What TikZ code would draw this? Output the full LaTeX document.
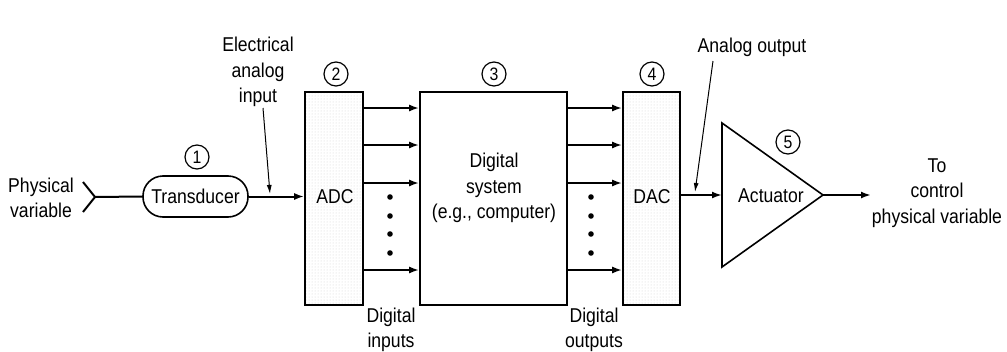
\documentclass[tikz,border=0pt]{standalone}
\usepackage{fontspec}
\setmainfont{Liberation Sans}[FakeStretch=0.88]
\usetikzlibrary{arrows.meta,patterns}
\begin{document}
\begin{tikzpicture}[x=1pt,y=-1pt,
  txt/.style={font=\fontsize{20}{25.5}\selectfont, align=center, inner sep=0pt},
  num/.style={draw, circle, line width=1.2pt, minimum size=24pt, inner sep=0pt, font=\fontsize{18}{18}\selectfont},
  blk/.style={draw, line width=1.6pt, inner sep=0pt},
  conv/.style={blk, pattern=dots, pattern color=gray!35},
  arr/.style={line width=2pt, -{Latex[length=10pt,width=7pt]}},
  wire/.style={line width=2pt},
  lead/.style={line width=1pt, -{Latex[length=9pt,width=5pt]}}]
\useasboundingbox (0,0) rectangle (1007,351);
\fill[white] (0,0) rectangle (1007,351);

% input side
\node[txt] (phys) at (41,198) {Physical\\variable};
\coordinate (cv) at (95,197);
\coordinate (cvt) at (83,182);
\coordinate (cvb) at (83,212);
\draw[wire] (cvt) -- (cv) -- (cvb);
\node[blk, rounded corners=20pt, minimum width=105pt, minimum height=41pt, txt] (trans) at (195.5,196.5) {Transducer};
\node[num] (n1) at (197,157) {1};
\draw[wire] (cv) -- (trans.west);

% ADC
\node[conv, minimum width=58pt, minimum height=213pt] (adc) at (334,198.5) {};
\node[txt] (adct) at (335,197) {ADC};
\node[num] (n2) at (336,74) {2};
\draw[arr] (trans.east) -- (trans.east -| adc.west);
\node[txt] (elec) at (258,72) {Electrical\\analog\\input};
\coordinate (ea) at (270,194);
\draw[lead] (263,108) -- (ea);

% digital system
\node[blk, minimum width=147pt, minimum height=213pt] (ds) at (493.5,198.5) {};
\node[txt] (dst) at (494,188) {Digital\\system\\(e.g., computer)};
\node[num] (n3) at (494,74) {3};

% DAC
\node[conv, minimum width=57pt, minimum height=213pt] (dac) at (651.5,198.5) {};
\node[txt] (dact) at (652,197) {DAC};
\node[num] (n4) at (652,74) {4};

\foreach \yy in {108,145,183,270} {
  \draw[arr] (adc.east |- 0,\yy) -- (ds.west |- 0,\yy);
  \draw[arr] (ds.east |- 0,\yy) -- (dac.west |- 0,\yy);
}
\foreach \yy in {197,216,234,253} {
  \fill (390,\yy) circle (2.8pt);
  \fill (591,\yy) circle (2.8pt);
}
\node[txt] (din) at (391,330) {Digital\\inputs};
\node[txt] (dout) at (594,330) {Digital\\outputs};

% actuator
\coordinate (at) at (722,123);
\coordinate (ab) at (722,267);
\coordinate (ap) at (823,195);
\draw[line width=1.6pt, line join=miter] (at) -- (ap) -- (ab) -- cycle;
\node[txt] (act) at (771,196) {Actuator};
\node[num] (n5) at (788,142) {5};
\draw[arr] (dac.east |- 0,195) -- (at |- 0,195);
\node[txt] (ao) at (752,47) {Analog output};
\coordinate (aoe) at (695,192);
\draw[lead] (713,61) -- (aoe);
\coordinate (oute) at (871,195);
\draw[arr] (ap) -- (oute);
\node[txt] (to) at (937,193) {To\\control\\physical variable};
\end{tikzpicture}
\end{document}
